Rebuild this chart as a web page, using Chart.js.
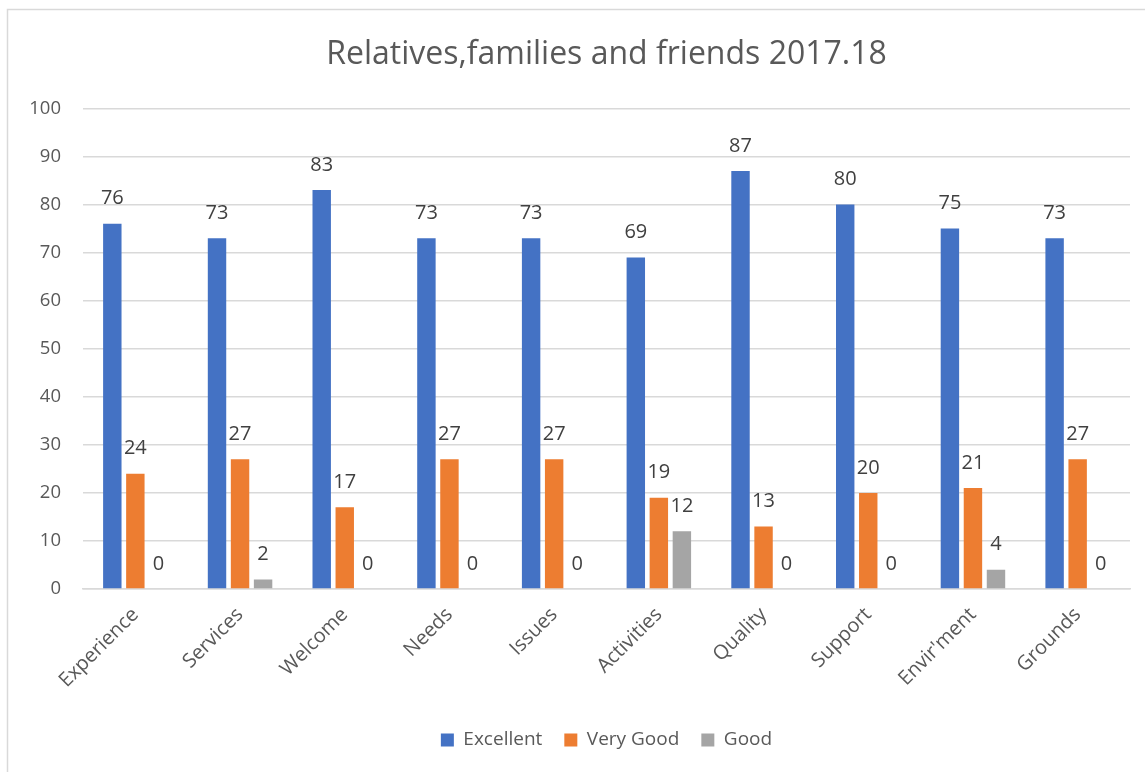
<!DOCTYPE html>
<html>
<head>
<meta charset="utf-8">
<script src="https://cdn.jsdelivr.net/npm/chart.js@4/dist/chart.umd.min.js"></script>
<style>
  html, body { margin: 0; padding: 0; background: #fff; }
  #wrap { position: relative; width: 1145px; height: 772px; }
</style>
</head>
<body>
<div id="wrap"><canvas id="chart"></canvas></div>
<script>
// data
const categories = ['Experience', 'Services', 'Welcome', 'Needs', 'Issues', 'Activities', 'Quality', 'Support', "Envir'ment", 'Grounds'];
const excellent = [76, 73, 83, 73, 73, 69, 87, 80, 75, 73];
const veryGood = [24, 27, 17, 27, 27, 19, 13, 20, 21, 27];
const good = [0, 2, 0, 0, 0, 12, 0, 0, 4, 0];

const FONT = '"Open Sans", Lato, sans-serif';
const TEXT = '#595959';

// frame like the excel chart border (top + left only visible)
const framePlugin = {
  id: 'frame',
  beforeDraw(chart) {
    const ctx = chart.ctx;
    ctx.save();
    ctx.strokeStyle = '#d9d9d9';
    ctx.lineWidth = 1.5;
    ctx.beginPath();
    ctx.moveTo(7.5, 772);
    ctx.lineTo(7.5, 9.5);
    ctx.lineTo(1145, 9.5);
    ctx.stroke();
    ctx.restore();
  }
};

// value labels above each bar
const valueLabels = {
  id: 'valueLabels',
  afterDatasetsDraw(chart) {
    const ctx = chart.ctx;
    ctx.save();
    ctx.font = '20px ' + FONT;
    ctx.fillStyle = '#404040';
    ctx.textAlign = 'center';
    ctx.textBaseline = 'middle';
    chart.data.datasets.forEach((ds, i) => {
      const meta = chart.getDatasetMeta(i);
      meta.data.forEach((bar, j) => {
        ctx.fillText(ds.data[j], bar.x, bar.y - 25);
      });
    });
    ctx.restore();
  }
};

new Chart(document.getElementById('chart'), {
  type: 'bar',
  data: {
    labels: categories,
    datasets: [
      { label: 'Excellent', data: excellent, backgroundColor: '#4472C4' },
      { label: 'Very Good', data: veryGood, backgroundColor: '#ED7D31' },
      { label: 'Good', data: good, backgroundColor: '#A5A5A5' }
    ]
  },
  options: {
    responsive: true,
    maintainAspectRatio: false,
    animation: false,
    datasets: {
      bar: { categoryPercentage: 0.66, barPercentage: 0.8 }
    },
    layout: { padding: { left: 0, right: 15, top: 0, bottom: 12.5 } },
    plugins: {
      title: {
        display: true,
        fullSize: false,
        text: 'Relatives,families and friends 2017.18',
        color: TEXT,
        font: { family: FONT, size: 32, weight: 'normal', lineHeight: 1.2 },
        padding: { top: 36, bottom: 34 }
      },
      legend: {
        position: 'bottom',
        fullSize: false,
        labels: {
          color: TEXT,
          font: { family: FONT, size: 19 },
          boxWidth: 13,
          boxHeight: 13,
          padding: 22
        }
      },
      tooltip: { enabled: false }
    },
    scales: {
      x: {
        grid: { display: false, drawTicks: false },
        border: { display: true, color: '#d9d9d9', width: 1.5 },
        ticks: {
          color: TEXT,
          font: { family: FONT, size: 20 },
          minRotation: 45,
          maxRotation: 45,
          padding: 14
        },
        afterFit(scale) { scale.height = 119.5; }
      },
      y: {
        min: 0,
        max: 100,
        grid: { color: '#d9d9d9', lineWidth: 1.5, drawTicks: false },
        border: { display: false },
        ticks: {
          stepSize: 10,
          color: TEXT,
          font: { family: FONT, size: 18.5 },
          padding: 22
        },
        afterFit(scale) { scale.width = 83; }
      }
    }
  },
  plugins: [framePlugin, valueLabels]
});
</script>
</body>
</html>
